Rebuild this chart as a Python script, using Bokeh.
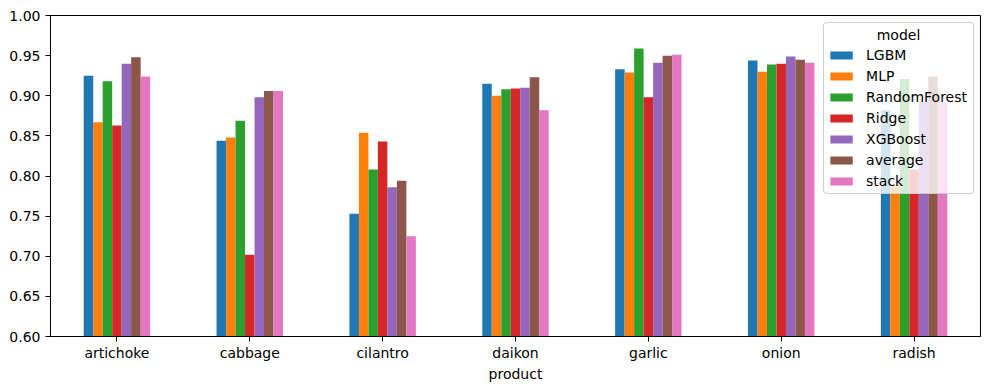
from bokeh.plotting import figure
from bokeh.models import (ColumnDataSource, FactorRange, Range1d, FixedTicker,
                          NumeralTickFormatter, Label, BoxAnnotation)
from bokeh.transform import dodge
from bokeh.embed import file_html
from bokeh.resources import INLINE

products = ["artichoke", "cabbage", "cilantro", "daikon", "garlic", "onion", "radish"]
models = ["LGBM", "MLP", "RandomForest", "Ridge", "XGBoost", "average", "stack"]

lgbm = [0.925, 0.844, 0.753, 0.915, 0.933, 0.944, 0.882]
mlp = [0.867, 0.848, 0.854, 0.900, 0.929, 0.930, 0.789]
random_forest = [0.918, 0.869, 0.808, 0.908, 0.959, 0.939, 0.921]
ridge = [0.863, 0.702, 0.843, 0.909, 0.898, 0.940, 0.808]
xgboost = [0.940, 0.898, 0.786, 0.910, 0.941, 0.949, 0.892]
average = [0.948, 0.906, 0.794, 0.923, 0.950, 0.945, 0.924]
stack = [0.924, 0.906, 0.725, 0.882, 0.951, 0.941, 0.892]

y_ticks = [0.60, 0.65, 0.70, 0.75, 0.80, 0.85, 0.90, 0.95, 1.00]

colors = ["#1f77b4", "#ff7f0e", "#2ca02c", "#d62728", "#9467bd", "#8c564b", "#e377c2"]

series = [lgbm, mlp, random_forest, ridge, xgboost, average, stack]
data = {"product": products}
for m, s in zip(models, series):
    data[m] = s
source = ColumnDataSource(data)

FONT = "DejaVu Sans"
FS = "14px"

p = figure(
    x_range=FactorRange(*products),
    y_range=Range1d(0.6, 1.0),
    frame_width=930,
    frame_height=321,
    output_backend="svg",
    toolbar_location=None,
    min_border_left=50,
    min_border_top=15,
    min_border_right=8,
    min_border_bottom=10,
    background_fill_color="white",
    border_fill_color="white",
)

n = len(models)
total_w = 0.5
bw = total_w / n
for i, m in enumerate(models):
    off = (i - (n - 1) / 2) * bw
    p.vbar(
        x=dodge("product", off, range=p.x_range),
        top=m,
        bottom=0,
        width=bw,
        source=source,
        fill_color=colors[i],
        line_color=None,
        legend_label=m,
    )

p.xgrid.visible = False
p.ygrid.visible = False
p.outline_line_color = "black"
p.outline_line_width = 1
p.outline_line_alpha = 1

for ax in (p.xaxis[0], p.yaxis[0]):
    ax.axis_line_color = "black"
    ax.major_tick_line_color = "black"
    ax.major_tick_out = 5
    ax.major_tick_in = 0
    ax.minor_tick_line_color = None
    ax.major_label_text_font = FONT
    ax.major_label_text_font_size = FS
    ax.major_label_text_color = "black"
    ax.axis_label_text_font = FONT
    ax.axis_label_text_font_size = FS
    ax.axis_label_text_font_style = "normal"
    ax.axis_label_text_color = "black"

p.yaxis[0].ticker = FixedTicker(ticks=y_ticks)
p.yaxis[0].formatter = NumeralTickFormatter(format="0.00")
p.yaxis[0].major_label_standoff = 5
p.xaxis[0].axis_label = "product"
p.xaxis[0].major_label_standoff = 3
p.xaxis[0].axis_label_standoff = 2

# semi-transparent legend frame (drawn over the bars, under the legend entries)
p.add_layout(BoxAnnotation(
    left=5.818, right=6.947, top=0.9913, bottom=0.7782,
    fill_color="white", fill_alpha=0.8,
    line_color="#cccccc", line_width=1, line_alpha=1,
    border_radius=3,
))

lg = p.legend[0]
lg.location = "top_right"
lg.margin = 13
lg.title = " "
lg.title_text_font = FONT
lg.title_text_font_size = FS
lg.title_text_font_style = "normal"
lg.title_standoff = 2
lg.label_text_font = FONT
lg.label_text_font_size = FS
lg.label_text_color = "black"
lg.glyph_width = 28
lg.glyph_height = 10
lg.label_height = 17
lg.spacing = 4
lg.padding = 5
lg.label_standoff = 11
lg.background_fill_alpha = 0
lg.border_line_color = None

# centered legend title, as in the reference
p.add_layout(Label(
    x=6.383, y=0.976, text="model",
    text_font=FONT, text_font_size=FS, text_color="black",
    text_align="center", text_baseline="middle",
))

open("out.html", "w").write(file_html(p, INLINE))
